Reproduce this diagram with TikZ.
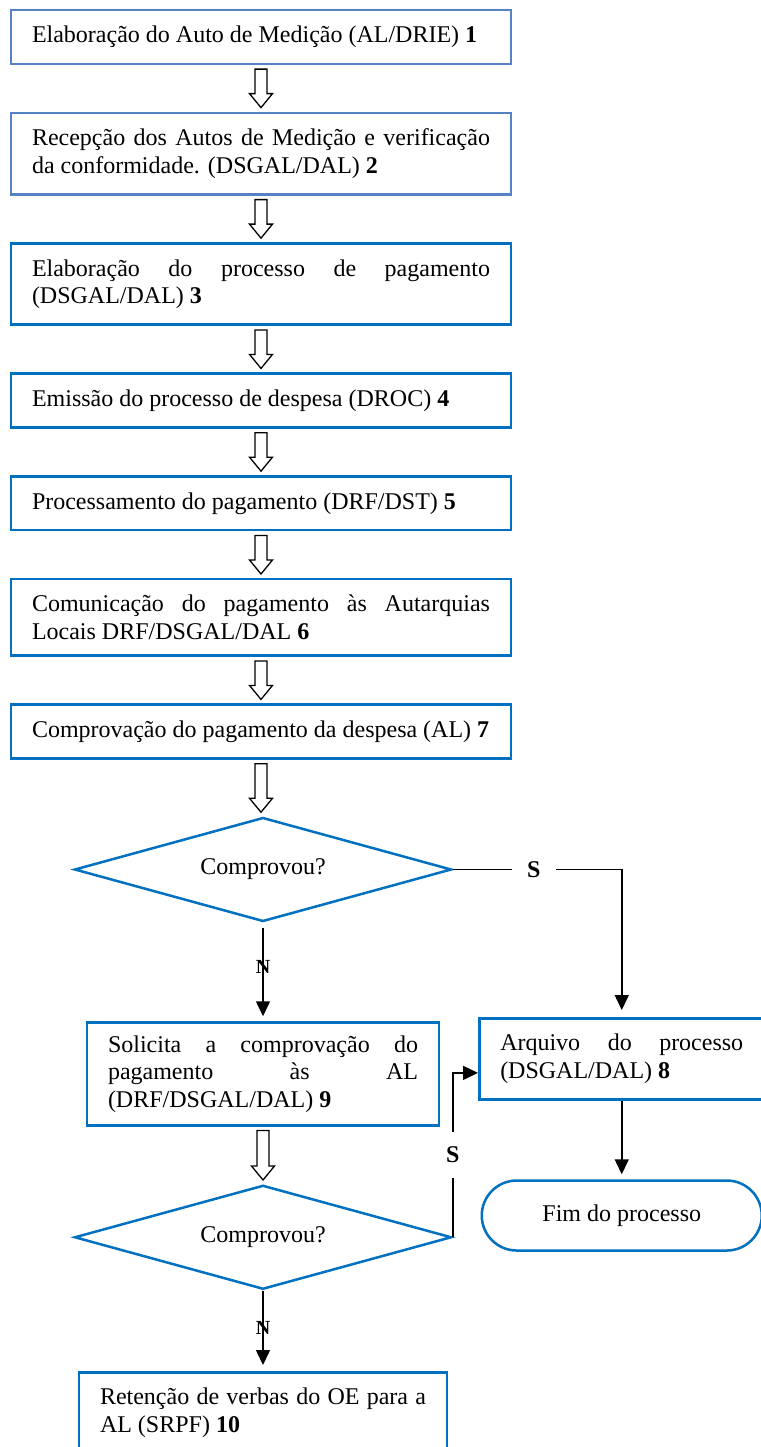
\documentclass[tikz,border=0pt]{standalone}
\usepackage{fontspec}
\setmainfont{Liberation Serif}
\usetikzlibrary{arrows.meta,shapes.geometric,positioning,calc}
\definecolor{steelblue}{RGB}{84,130,194}
\definecolor{boxblue}{RGB}{0,112,192}
\hyphenpenalty=10000
\exhyphenpenalty=10000

% hollow block arrow between two nodes
\newcommand{\hollow}[2]{%
  \draw[line width=1.3pt, fill=white]
    ($(#1.south)+(-6,-4)$) -- ($(#1.south |- #2.north)+(-6,18)$)
    -- ($(#1.south |- #2.north)+(-11.5,18)$) -- ($(#1.south |- #2.north)+(0,4)$)
    -- ($(#1.south |- #2.north)+(11.5,18)$) -- ($(#1.south |- #2.north)+(6,18)$)
    -- ($(#1.south)+(6,-4)$) -- cycle;}

\begin{document}
\begin{tikzpicture}[x=1pt, y=1pt, node distance=46.5pt,
    font=\fontsize{24}{27.5}\selectfont,
    stepbox/.style={draw=boxblue, line width=2.5pt, text width=458pt, align=justify, inner xsep=21pt, inner ysep=16pt},
    decision/.style={diamond, draw=boxblue, line width=2.5pt, aspect=3.6, inner sep=0pt, minimum width=377pt, minimum height=104pt},
    endbox/.style={draw=boxblue, line width=2.5pt, rounded corners=35pt, minimum width=280pt, minimum height=70pt},
    flow/.style={line width=1.5pt, -{Triangle[width=14pt,length=15pt]}},
    yeslbl/.style={fill=white, font=\fontsize{24}{24}\selectfont\bfseries, inner sep=15pt},
    nolbl/.style={font=\fontsize{20}{20}\selectfont\bfseries, inner sep=0pt}]
  \useasboundingbox (0,0) rectangle (760,-1447);

  \node[stepbox, draw=steelblue] (b1) at (261,-37) {Elaboração do Auto de Medição (AL/DRIE) \textbf{1}};
  \node[stepbox, draw=steelblue, below=of b1] (b2) {Recepção dos Autos de Medição e verificação \linebreak da conformidade. (DSGAL/DAL) \textbf{2}};
  \node[stepbox, below=of b2] (b3) {Elaboração do processo de pagamento \linebreak (DSGAL/DAL) \textbf{3}};
  \node[stepbox, below=of b3] (b4) {Emissão do processo de despesa (DROC) \textbf{4}};
  \node[stepbox, below=of b4] (b5) {Processamento do pagamento (DRF/DST) \textbf{5}};
  \node[stepbox, below=of b5] (b6) {Comunicação do pagamento às Autarquias \linebreak Locais DRF/DSGAL/DAL \textbf{6}};
  \node[stepbox, below=of b6] (b7) {Comprovação do pagamento da despesa (AL) \textbf{7}};

  \node[decision, below=56.5pt of b7, xshift=2pt] (d1) {Comprovou?};
  \node[stepbox, text width=310pt, inner ysep=13pt, below=98.5pt of d1] (b9) {Solicita a comprovação do \linebreak pagamento às AL \linebreak (DRF/DSGAL/DAL) \textbf{9}};
  \node[decision, below=57.5pt of b9] (d2) {Comprovou?};
  \node[stepbox, text width=326pt, below=80.5pt of d2] (b10) {Retenção de verbas do OE para a \linebreak AL (SRPF) \textbf{10}};

  \node[stepbox, text width=243pt, anchor=north west] (b8) at (478,-1017) {Arquivo do processo \linebreak (DSGAL/DAL) \textbf{8}};
  \node[endbox, below=78.5pt of b8] (fim) {Fim do processo};

  \hollow{b1}{b2}
  \hollow{b2}{b3}
  \hollow{b3}{b4}
  \hollow{b4}{b5}
  \hollow{b5}{b6}
  \hollow{b6}{b7}
  \hollow{b7}{d1}
  \hollow{b9}{d2}

  \draw[flow, shorten >=7pt] (d1.east) -| node[pos=0.24, yeslbl] {S} (b8.north);
  \draw[flow, shorten <=5pt, shorten >=5pt] (d1.south) -- node[pos=0.45, nolbl] {N} (d1.south |- b9.north);
  \draw[flow, shorten >=5pt] (b8.south) -- (fim.north);
  \draw[flow] (d2.east) |- node[pos=0.25, yeslbl] {S} ([yshift=-14pt]b8.west);
  \draw[flow, shorten >=6pt] (d2.south) -- node[pos=0.47, nolbl] {N} (d2.south |- b10.north);
\end{tikzpicture}
\end{document}
